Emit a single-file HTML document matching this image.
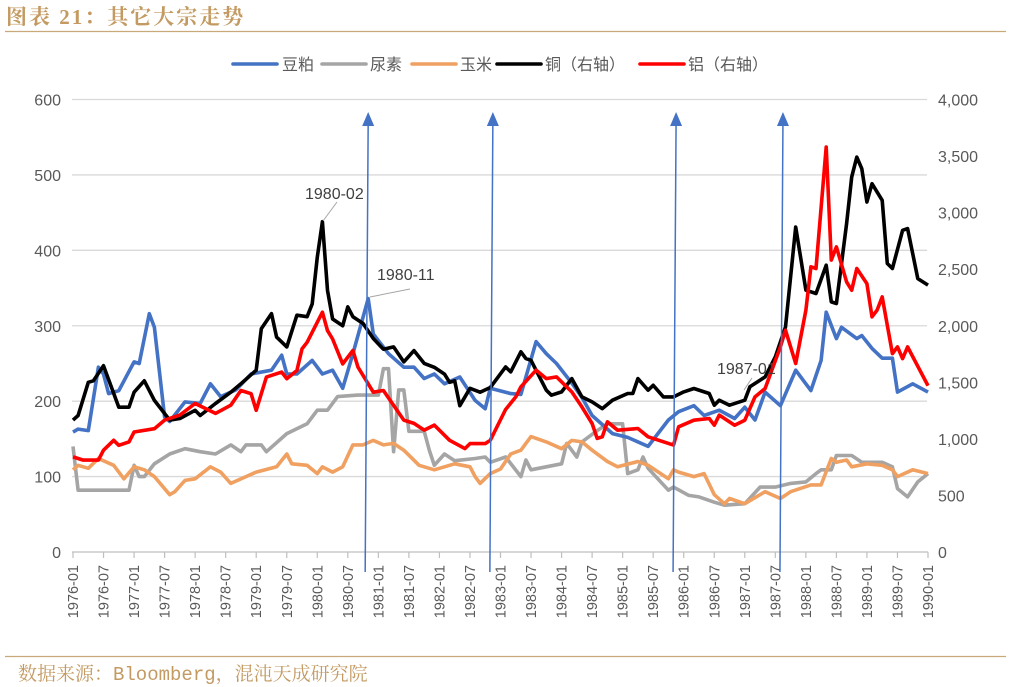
<!DOCTYPE html>
<html><head><meta charset="utf-8"><style>
html,body{margin:0;padding:0;background:#fff;}
svg{display:block;font-family:"Liberation Sans","Noto Sans CJK SC",sans-serif;}
</style></head><body>
<svg id="chart" width="1011" height="687" viewBox="0 0 1011 687" xmlns="http://www.w3.org/2000/svg">
<text x="6" y="24" font-size="21" font-weight="bold" fill="#c39a62" font-family="'Liberation Serif','Noto Serif CJK SC',serif" letter-spacing="2">图表 21：其它大宗走势</text>
<line x1="5" y1="31.5" x2="1006" y2="31.5" stroke="#c9a979" stroke-width="1.2"/>
<line x1="5" y1="656.5" x2="1006" y2="656.5" stroke="#c9a979" stroke-width="1.2"/>
<text x="18" y="680" font-size="19" fill="#c39a62" font-family="'Liberation Mono','Noto Serif CJK SC',monospace">数据来源：Bloomberg，混沌天成研究院</text>
<g id="grid"></g>
<g id="axes"></g>
<g id="series"></g>
<g id="notes"></g>
<g id="legend"></g>
</svg>
<script>
// ---- data (month index from 1976-01) ----
const leftTicks=[0,100,200,300,400,500,600];
const rightTickLabels=["0","500","1,000","1,500","2,000","2,500","3,000","3,500","4,000"];
const rightTicks=[0,500,1000,1500,2000,2500,3000,3500,4000];
const soyM=[0,1,3,5,6,7,9,12,13,15,16,18,19,22,25,27,29,32,35,39,41,42,44,47,49,51,53,55,58,59,62,65,67,69,71,73,76,79,81,82,86,88,91,93,95,98,100,102,106,109,113,117,119,122,124,127,130,132,134,136,139,142,145,147,148,150,151,154,155,157,159,161,162,165,168];
const soyV=[159,163,161,245,236,210,214,252,250,316,298,179,173,199,197,223,206,215,236,241,261,236,236,254,236,241,217,263,336,289,263,245,245,230,236,223,232,201,190,217,210,209,279,263,250,224,205,181,157,152,140,175,186,194,181,188,177,192,175,212,194,241,214,254,318,283,298,283,287,270,257,257,212,223,212];
const ureaM=[0,1,11,12,13,14,16,19,22,25,28,31,33,34,37,38,42,46,48,50,52,56,60,61,62,63,64,65,66,69,70,71,73,75,79,81,82,85,88,89,90,93,96,97,99,100,103,105,108,109,111,112,113,117,118,121,123,126,128,132,135,138,141,144,146,147,149,150,153,155,159,161,162,164,166,168];
const ureaV=[140,82,82,115,100,100,117,130,137,133,130,142,133,142,142,133,157,170,188,188,206,208,208,243,243,133,215,215,160,160,135,115,130,121,124,126,119,126,100,122,109,113,117,144,126,146,161,170,170,104,109,126,111,82,86,75,73,66,62,64,86,86,91,93,104,109,109,128,128,119,119,113,84,73,93,104];
const cornM=[0,1,3,5,8,10,12,14,16,19,20,22,24,27,29,31,34,36,40,42,43,46,48,49,51,53,55,57,59,61,63,65,68,71,73,75,78,79,80,82,84,86,88,90,93,96,98,100,102,105,107,111,113,117,118,119,122,124,126,128,129,132,136,139,141,145,147,149,150,152,153,156,159,161,162,165,168];
const cornV=[109,115,111,124,115,97,113,109,100,76,80,95,97,113,106,91,100,106,113,130,117,115,104,113,106,113,142,142,148,142,144,135,115,109,113,117,113,100,91,104,110,130,135,153,146,137,148,146,135,120,113,120,115,97,109,106,100,104,76,64,71,64,80,71,80,89,89,124,119,122,113,117,115,109,100,109,104];
const copperM=[0,1,3,4,6,9,11,12,14,16,19,21,24,25,28,31,33,36,37,39,40,42,44,46,47,48,49,50,51,53,54,55,57,59,61,63,65,67,69,71,73,74,75,76,78,80,82,85,86,88,89,90,93,94,96,98,100,102,104,106,109,110,111,113,114,116,118,120,122,125,126,127,129,132,133,136,138,140,142,144,146,148,149,150,152,153,154,155,156,157,159,160,161,163,164,166,168];
const copperV=[1166,1207,1500,1513,1647,1280,1280,1413,1513,1340,1166,1180,1253,1207,1313,1413,1487,1607,1973,2107,1900,1813,2093,2080,2193,2607,2920,2313,2060,2000,2167,2080,2020,1887,1793,1813,1680,1780,1667,1633,1573,1500,1513,1293,1447,1413,1454,1636,1592,1770,1710,1695,1430,1386,1415,1533,1371,1327,1268,1342,1401,1401,1533,1430,1474,1371,1371,1415,1445,1401,1298,1342,1298,1342,1460,1548,1725,1990,2873,2314,2285,2535,2211,2197,2903,3315,3491,3388,3094,3256,3109,2550,2506,2844,2859,2417,2359];
const aluM=[0,2,5,6,8,9,11,12,16,18,21,24,28,31,33,35,36,38,41,42,44,45,46,49,50,51,53,55,56,58,59,61,65,67,69,71,74,77,78,81,82,85,87,88,91,93,95,98,100,102,103,104,105,107,111,113,118,119,122,125,126,127,130,132,134,136,139,140,142,144,145,146,148,149,150,152,153,154,156,157,158,159,161,162,163,164,168];
const aluV=[841,812,812,900,987,943,973,1061,1090,1166,1210,1313,1225,1298,1428,1399,1253,1546,1590,1532,1604,1795,1854,2120,1957,1883,1663,1781,1634,1487,1413,1428,1166,1137,1078,1122,987,914,958,958,987,1260,1371,1460,1607,1533,1548,1415,1283,1136,1004,1018,1151,1077,1092,1018,945,1107,1165,1180,1121,1210,1121,1165,1371,1445,1813,1961,1666,2138,2521,2506,3580,2580,2697,2388,2314,2506,2373,2079,2138,2255,1754,1813,1710,1813,1470];
const tickLabels=["1976-01","1976-07","1977-01","1977-07","1978-01","1978-07","1979-01","1979-07","1980-01","1980-07","1981-01","1981-07","1982-01","1982-07","1983-01","1983-07","1984-01","1984-07","1985-01","1985-07","1986-01","1986-07","1987-01","1987-07","1988-01","1988-07","1989-01","1989-07","1990-01"];
const arrowM=[58,82.5,118.5,139.5];

// ---- scales ----
const X0=73,X1=928,Y0=552,YT=99.5;
const xs=m=>X0+(X1-X0)*m/168;
const yl=v=>Y0-(Y0-YT)*v/600;
const yr=v=>Y0-(Y0-YT)*v/4000;
const NS="http://www.w3.org/2000/svg";
function mk(tag,parent,attrs){const e=document.createElementNS(NS,tag);for(const k in attrs)e.setAttribute(k,attrs[k]);document.getElementById(parent).appendChild(e);return e;}

leftTicks.forEach((t,i)=>{
  if(t>0){const g=mk('line','grid',{x1:72,x2:927,y1:yl(t),y2:yl(t),stroke:'#d9d9d9','stroke-width':1.3});
  
  }
  const l=mk('text','axes',{x:61,y:yl(t)+6,'text-anchor':'end','font-size':16,fill:'#595959'});
  l.textContent=t;
  
  
});
rightTicks.forEach((t,i)=>{
  const l=mk('text','axes',{x:938,y:yr(t)+6,'font-size':16,fill:'#595959'});
  l.textContent=rightTickLabels[i];
  
  
});
const base=mk('line','axes',{x1:72,x2:928,y1:Y0,y2:Y0,stroke:'#bfbfbf','stroke-width':1.3});


tickLabels.forEach((s,i)=>{
  const x=xs(i*6);
  const tk=mk('line','axes',{x1:x,x2:x,y1:Y0,y2:Y0+6,stroke:'#bfbfbf','stroke-width':1.2});
  
  
  const l=mk('text','axes',{x:0,y:0,'text-anchor':'end','font-size':14.5,fill:'#595959',transform:`translate(${x+5},${565}) rotate(-90)`});
  l.textContent=s;
  
  
});

function draw(ms,vs,scale,color,name){
  const d=ms.map((m,i)=>(i?'L':'M')+xs(m).toFixed(1)+','+scale(vs[i]).toFixed(1)).join('');
  const p=mk('path','series',{d:d,fill:'none',stroke:color,'stroke-width':3.6,'stroke-linejoin':'round'});
  
  
}
draw(ureaM,ureaV,yl,'#a5a5a5','urea-line');
draw(cornM,cornV,yl,'#f0a060','corn-line');
draw(soyM,soyV,yl,'#4472c4','soymeal-line');
draw(copperM,copperV,yr,'#000000','copper-line');
draw(aluM,aluV,yr,'#ff0000','aluminum-line');

arrowM.forEach(m=>{
  const x=xs(m);
  const a=mk('line','notes',{x1:x-3,y1:572,x2:x,y2:122,stroke:'#4472c4','stroke-width':1.5});
  
  
  const h=mk('path','notes',{d:`M${x-6},${126}L${x},${112}L${x+6},${126}Z`,fill:'#4472c4'});
  
  
});
[["1980-02",305,199,323,221,337,202],["1980-11",377,280,370,297,410,289],["1987-01",717,374,744,390,752,378]].forEach(a=>{
  const ln=mk('line','notes',{x1:a[3],y1:a[4],x2:a[5],y2:a[6],stroke:'#a5a5a5','stroke-width':1});
  
  
  const t=mk('text','notes',{x:a[1],y:a[2],'font-size':16,fill:'#404040'});
  t.textContent=a[0];
  
  
});
[["豆粕",'#4472c4',233,282],["尿素",'#a5a5a5',322,370],["玉米",'#f0a060',412,460],["铜（右轴）",'#000000',497,545],["铝（右轴）",'#ff0000',640,688]].forEach(l=>{
  const ln=mk('line','legend',{x1:l[2],x2:l[2]+44,y1:64,y2:64,stroke:l[1],'stroke-width':3.6,'stroke-linecap':'round'});
  
  
  const t=mk('text','legend',{x:l[3],y:70,'font-size':16,fill:'#595959'});
  t.textContent=l[0];
  
  
});
</script>
</body></html>
